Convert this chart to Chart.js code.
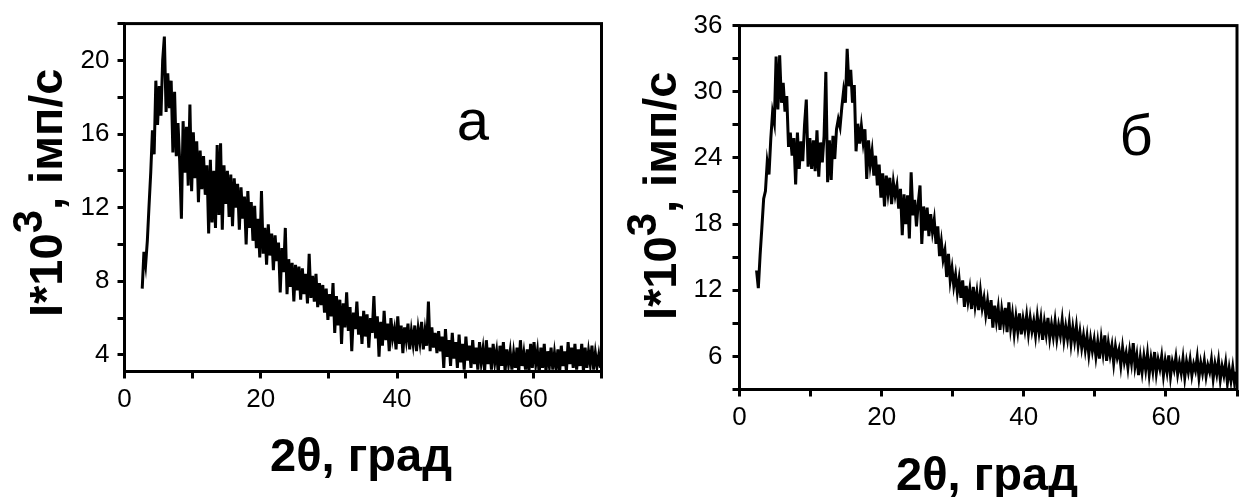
<!DOCTYPE html>
<html>
<head>
<meta charset="utf-8">
<script src="https://cdn.jsdelivr.net/npm/chart.js@4.4.1/dist/chart.umd.min.js"></script>
<style>
  html, body { margin: 0; padding: 0; background: #fff; }
  #wrap { position: relative; width: 1243px; height: 497px; overflow: hidden; }
  #wrap canvas { position: absolute; top: 0; }
</style>
</head>
<body>
<div id="wrap">
  <canvas id="chartA" width="620" height="497" style="left:0;width:620px;height:497px"></canvas>
  <canvas id="chartB" width="623" height="497" style="left:620px;width:623px;height:497px"></canvas>
</div>
<script>
// scan grid (2θ, deg)
const scanStep = 0.25;
const scanStartA = 2.6;
const scanStartB = 2.4;

// intensity, thousands of counts/s — sample а
const intensityA = [
  7.6, 9.6, 8.9, 10.2, 12.1, 13.9, 16.2, 14.9,
  18.9, 16.5, 18.6, 17.0, 20.0, 21.3, 17.2, 19.3,
  17.4, 18.9, 15.0, 18.3, 14.8, 16.6, 14.5, 11.4,
  16.7, 13.9, 16.4, 13.2, 17.6, 12.9, 16.1, 13.6,
  15.6, 12.3, 15.1, 13.0, 14.8, 12.7, 14.3, 10.6,
  14.6, 11.2, 14.0, 10.9, 15.4, 11.6, 15.5, 10.8,
  14.3, 12.2, 14.0, 11.5, 13.8, 11.0, 13.6, 12.0,
  13.3, 10.8, 13.1, 11.4, 12.6, 10.0, 12.9, 10.9,
  12.3, 10.2, 12.1, 9.8, 11.4, 9.3, 12.9, 9.5,
  10.9, 8.9, 11.1, 9.4, 10.6, 8.6, 10.5, 9.1,
  10.1, 7.4, 9.8, 8.5, 10.9, 7.3, 9.2, 7.7,
  9.0, 6.9, 8.9, 7.5, 8.8, 7.0, 8.7, 7.3,
  8.4, 6.8, 9.5, 7.1, 8.3, 6.9, 8.4, 6.6,
  7.9, 6.7, 7.8, 6.3, 7.6, 5.9, 7.3, 6.1,
  7.9, 5.2, 7.2, 5.6, 7.0, 4.6, 6.8, 5.5,
  7.4, 5.3, 6.6, 4.2, 6.3, 5.4, 6.9, 5.1,
  6.1, 4.6, 6.4, 5.0, 6.2, 4.4, 6.0, 5.2,
  7.2, 4.9, 6.1, 3.9, 5.8, 4.5, 6.4, 4.8,
  5.7, 4.2, 6.0, 4.9, 5.4, 4.3, 6.1, 4.6,
  5.6, 4.1, 5.5, 4.8, 5.7, 4.3, 5.3, 4.6,
  5.6, 4.2, 5.4, 4.7, 5.8, 4.3, 5.3, 4.5,
  6.9, 4.2, 5.5, 4.4, 5.2, 4.1, 5.3, 4.2,
  5.0, 3.3, 5.4, 3.9, 4.8, 3.4, 5.2, 3.8,
  4.7, 3.3, 5.1, 3.6, 4.6, 3.2, 5.0, 3.7,
  4.5, 3.3, 4.8, 3.5, 4.4, 3.2, 4.7, 3.6,
  4.3, 3.1, 4.8, 3.5, 4.4, 3.2, 4.6, 3.6,
  4.2, 3.0, 4.5, 3.4, 4.7, 3.1, 4.3, 3.5,
  4.2, 3.2, 4.1, 3.3, 4.4, 3.0, 4.8, 3.4,
  4.1, 3.2, 4.3, 3.1, 4.6, 3.3, 4.7, 3.5,
  4.2, 3.0, 4.4, 3.3, 4.6, 3.1, 4.2, 3.4,
  4.4, 3.2, 4.1, 3.3, 4.3, 3.0, 4.5, 3.4,
  4.2, 3.1, 4.7, 3.5, 4.4, 3.3, 4.6, 3.2,
  4.3, 3.4, 4.6, 3.1, 4.4, 3.3, 4.2, 3.5,
  4.5, 3.2, 4.1, 3.4, 4.0, 3.3
];

// intensity, thousands of counts/s — sample б
const intensityB = [
  13.8, 12.2, 15.2, 17.7, 20.3, 21.0, 23.6, 22.5,
  25.7, 28.1, 27.2, 33.2, 28.4, 33.3, 29.0, 30.8,
  28.2, 29.6, 25.0, 26.3, 24.2, 25.8, 21.6, 26.3,
  23.0, 25.5, 23.7, 27.0, 29.3, 23.2, 25.8, 23.0,
  25.6, 22.8, 26.5, 22.3, 25.4, 23.6, 26.0, 31.8,
  21.8, 25.6, 22.0, 26.0, 23.9, 26.6, 27.5, 26.8,
  28.6, 30.1, 29.0, 33.9, 30.5, 32.0, 29.0, 30.6,
  24.6, 27.1, 25.3, 26.9, 25.4, 26.6, 22.1, 25.6,
  23.4, 24.6, 22.4, 24.2, 21.5, 23.4, 20.4, 22.6,
  19.6, 22.4, 20.8, 22.2, 19.8, 21.8, 20.6, 21.5,
  19.4, 21.2, 17.0, 20.7, 18.0, 20.6, 16.7, 22.7,
  18.8, 20.2, 17.8, 19.9, 21.5, 16.2, 19.6, 17.4,
  19.5, 16.9, 18.9, 17.3, 18.4, 16.2, 17.8, 15.1,
  16.4, 14.8, 15.6, 13.2, 15.3, 12.9, 14.0, 12.4,
  13.4, 11.8, 13.0, 11.3, 12.9, 10.5, 12.4, 11.0,
  12.1, 10.3, 12.3, 10.6, 11.8, 10.2, 11.9, 10.4,
  11.3, 9.8, 11.0, 9.4, 11.1, 8.6, 10.6, 9.2,
  10.4, 8.4, 10.2, 9.0, 10.4, 8.2, 10.9, 8.6,
  9.8, 8.1, 9.6, 8.3, 9.9, 8.0, 9.4, 8.4,
  9.7, 8.1, 9.5, 8.3, 9.2, 7.9, 9.6, 8.2,
  9.4, 7.5, 9.1, 8.0, 9.5, 7.7, 8.9, 7.8,
  9.2, 7.6, 8.8, 7.9, 9.3, 7.5, 8.7, 7.6,
  9.0, 7.2, 8.6, 7.4, 8.7, 7.0, 8.2, 6.8,
  7.9, 6.6, 7.8, 6.2, 7.6, 6.5, 7.5, 6.0,
  7.3, 5.8, 7.6, 6.3, 7.9, 5.6, 7.2, 6.1,
  7.0, 5.4, 6.9, 5.9, 6.6, 5.2, 6.8, 5.5,
  6.3, 5.0, 6.5, 5.4, 7.2, 5.1, 6.1, 4.3,
  5.9, 4.6, 6.0, 4.8, 6.2, 4.4, 5.8, 4.7,
  6.4, 4.5, 5.7, 4.9, 6.0, 4.3, 5.6, 4.6,
  6.1, 4.2, 5.5, 4.8, 5.9, 4.4, 5.4, 4.5,
  5.8, 4.1, 5.5, 4.6, 5.7, 4.3, 5.3, 4.7,
  5.9, 4.1, 5.4, 4.5, 5.6, 4.2, 5.2, 4.6,
  5.7, 4.0, 5.3, 4.4, 5.6, 3.9, 5.1, 4.3,
  5.4, 3.6, 4.9, 3.8, 5.0, 3.6, 4.6
];

// labelled ticks
const xTickLabels = [0, 20, 40, 60];
const yTickLabelsA = [4, 8, 12, 16, 20];
const yTickLabelsB = [6, 12, 18, 24, 30, 36];

const fontFamily = '"Liberation Sans", Arial, sans-serif';

function toPoints(start, values) {
  return values.map((v, i) => ({ x: start + i * scanStep, y: v }));
}

// frame around the plot area plus axis titles and the panel letter
const panelText = {
  id: 'panelText',
  afterDatasetsDraw(chart) {
    const { ctx, chartArea: a } = chart;
    ctx.save();
    ctx.strokeStyle = '#000';
    ctx.lineWidth = 3;
    ctx.strokeRect(a.left, a.top, a.right - a.left, a.bottom - a.top);
    ctx.restore();
  },
  afterDraw(chart, args, opts) {
    const ctx = chart.ctx;
    ctx.save();
    ctx.fillStyle = '#000';

    // x title
    ctx.font = 'bold ' + opts.titleSize + 'px ' + fontFamily;
    ctx.textAlign = 'center';
    ctx.textBaseline = 'alphabetic';
    ctx.fillText('2θ, град', opts.xTitle[0], opts.xTitle[1]);

    // y title, read bottom to top, with raised 3
    ctx.save();
    ctx.translate(opts.yTitle[0], opts.yTitle[1]);
    ctx.rotate(-Math.PI / 2);
    ctx.textAlign = 'left';
    let pos = 0;
    ctx.font = 'bold ' + opts.titleSize + 'px ' + fontFamily;
    ctx.fillText('I*10', pos, 0);
    pos += ctx.measureText('I*10').width;
    ctx.font = 'bold ' + opts.supSize + 'px ' + fontFamily;
    ctx.fillText('3', pos, -opts.supRaise);
    pos += ctx.measureText('3').width;
    ctx.font = 'bold ' + opts.titleSize + 'px ' + fontFamily;
    ctx.fillText(', імп/с', pos, 0);
    ctx.restore();

    // panel letter
    ctx.font = opts.letterSize + 'px ' + fontFamily;
    ctx.textAlign = 'center';
    ctx.fillText(opts.letter, opts.letterPos[0], opts.letterPos[1]);
    ctx.restore();
  }
};

function makePanel(canvasId, points, yMin, yMax, yStep, yLabels, box, text) {
  const tickFont = { family: fontFamily, size: 26 };
  return new Chart(document.getElementById(canvasId), {
    type: 'line',
    data: {
      datasets: [{
        data: points,
        borderColor: '#000',
        borderWidth: 3,
        pointRadius: 0,
        tension: 0,
        clip: 0
      }]
    },
    options: {
      responsive: false,
      animation: false,
      layout: { padding: { left: 0, top: box.top, right: box.right, bottom: 0 } },
      plugins: {
        legend: { display: false },
        tooltip: { enabled: false },
        panelText: text
      },
      scales: {
        x: {
          type: 'linear',
          min: 0,
          max: 70,
          border: { display: false },
          grid: { drawOnChartArea: false, tickLength: 7, tickWidth: 3, tickColor: '#000' },
          ticks: {
            stepSize: 10,
            autoSkip: false,
            maxRotation: 0,
            padding: 6,
            color: '#000',
            font: tickFont,
            callback: v => (xTickLabels.includes(v) ? String(v) : '')
          },
          afterFit: s => { s.height = box.bottomSpace; }
        },
        y: {
          type: 'linear',
          min: yMin,
          max: yMax,
          border: { display: false },
          grid: { drawOnChartArea: false, tickLength: 7, tickWidth: 3, tickColor: '#000' },
          ticks: {
            stepSize: yStep,
            includeBounds: false,
            autoSkip: false,
            padding: box.yPad,
            color: '#000',
            font: tickFont,
            callback: v => (yLabels.includes(v) ? String(v) : '')
          },
          afterFit: s => { s.width = box.left; }
        }
      }
    },
    plugins: [panelText]
  });
}

makePanel('chartA', toPoints(scanStartA, intensityA), 3.1, 22, 2, yTickLabelsA,
  { left: 124.5, top: 21.5, right: 18.5, bottomSpace: 125.5, yPad: 8 },
  { titleSize: 47, supSize: 42, supRaise: 20, letterSize: 58, letter: 'а',
    xTitle: [361, 471], yTitle: [62, 317], letterPos: [473, 140] });

makePanel('chartB', toPoints(scanStartB, intensityB), 3, 36, 3, yTickLabelsB,
  { left: 119.5, top: 24.5, right: 5.5, bottomSpace: 107.5, yPad: 10 },
  { titleSize: 47, supSize: 42, supRaise: 20, letterSize: 58, letter: 'б',
    xTitle: [367, 490], yTitle: [56, 320], letterPos: [516, 155] });
</script>
</body>
</html>
